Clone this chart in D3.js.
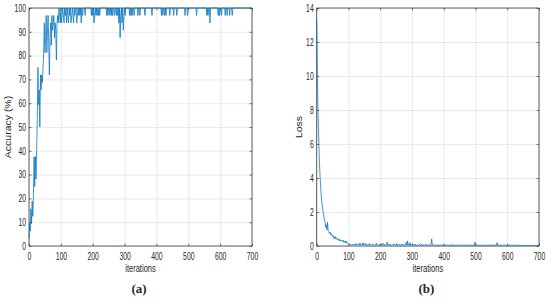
<!DOCTYPE html>
<html>
<head>
<meta charset="utf-8">
<script src="https://cdn.jsdelivr.net/npm/d3@7"></script>
<style>
body { margin: 0; background: #fff; }
svg text { font-family: "Liberation Sans", Arial, sans-serif; fill: #262626; font-size: 10.5px; }
.grid line { stroke: #e4e4e4; stroke-width: 0.8; }
.grid path, .axis path { display: none; }
.axis line { stroke: #3c3c3c; stroke-width: 0.7; }
.tag { font-family: "Liberation Serif", "DejaVu Serif", serif; font-weight: bold; font-size: 13px; }
</style>
</head>
<body>
<div id="chart"></div>
<script>
/* one value every 2 iterations, 0..700 */
var iterStep = 2;
/* accuracy kept as correct samples out of a 32 batch */
var batchSize = 32;
var accCorrect = [
  1,3,2,5,3,6,4,7,12,8,
  12,9,13,17,24,19,21,16,23,21,
  23,22,24,26,30,26,28,31,26,29,
  31,27,23,28,30,27,31,29,30,31,
  28,30,29,25,30,31,30,32,31,30,
  32,30,31,32,31,30,32,31,32,30,
  32,31,30,32,31,32,30,31,32,31,
  30,32,31,32,32,30,31,32,31,32,
  31,32,30,32,31,32,32,32,31,32,
  32,32,32,32,32,32,32,32,31,32,
  31,32,30,31,32,31,32,31,32,31,
  32,31,32,32,32,32,32,32,32,32,
  32,32,31,32,31,32,32,31,32,31,
  32,31,32,32,31,32,32,31,32,31,
  32,30,32,28,31,32,30,32,29,31,
  32,31,32,32,32,32,32,32,31,32,
  31,32,31,32,32,31,32,32,32,32,
  32,31,32,32,31,32,32,32,32,32,
  32,32,31,32,32,32,32,32,32,32,
  32,32,32,31,32,32,32,32,32,32,
  32,32,32,32,32,32,32,32,31,32,
  31,32,32,31,32,31,32,32,32,32,
  32,31,32,32,32,32,32,31,32,32,
  32,32,31,32,32,32,32,32,32,32,
  32,32,32,32,32,31,32,32,32,31,
  32,32,32,32,32,32,32,32,32,32,
  32,32,32,31,32,32,32,32,32,32,
  32,32,32,32,32,32,32,32,32,31,
  32,31,32,32,30,32,32,32,32,32,
  32,32,32,32,32,32,32,31,32,31,
  32,32,31,32,32,32,32,32,31,32,
  32,31,32,32,32,31,32,32,32,31,
  32,32,32,32,32,32,32,32,32,32,
  32,32,32,32,32,32,32,32,32,32,
  32,32,32,32,32,32,32,32,32,32,
  32
];
var lossValues = [
  13.3,10.1,8.0,6.6,5.3,4.3,3.6,3.0,2.6,2.3,
  2.0,1.8,1.55,1.45,1.1,1.25,0.95,1.4,0.9,0.85,
  0.75,0.82,0.65,0.72,0.6,0.55,0.62,0.45,0.52,0.42,
  0.55,0.4,0.44,0.36,0.42,0.32,0.38,0.3,0.36,0.28,
  0.32,0.25,0.33,0.22,0.28,0.2,0.3,0.17,0.22,0.14,
  0.12,0.08,0.1,0.06,0.09,0.05,0.11,0.07,0.12,0.06,
  0.08,0.05,0.15,0.06,0.09,0.04,0.1,0.07,0.18,0.05,
  0.08,0.12,0.06,0.2,0.05,0.09,0.06,0.16,0.05,0.08,
  0.04,0.1,0.06,0.14,0.05,0.07,0.04,0.09,0.12,0.05,
  0.06,0.04,0.08,0.05,0.15,0.04,0.06,0.09,0.05,0.07,
  0.04,0.12,0.05,0.08,0.18,0.05,0.06,0.1,0.04,0.07,
  0.05,0.24,0.06,0.08,0.04,0.12,0.05,0.06,0.04,0.09,
  0.05,0.04,0.11,0.05,0.06,0.04,0.15,0.05,0.04,0.08,
  0.05,0.1,0.04,0.06,0.05,0.12,0.04,0.07,0.05,0.08,
  0.06,0.22,0.05,0.3,0.06,0.12,0.04,0.2,0.05,0.08,
  0.04,0.1,0.05,0.06,0.04,0.12,0.05,0.04,0.07,0.05,
  0.04,0.06,0.09,0.04,0.05,0.12,0.04,0.06,0.05,0.04,
  0.08,0.04,0.05,0.1,0.04,0.06,0.04,0.05,0.07,0.04,
  0.05,0.42,0.06,0.04,0.08,0.04,0.05,0.06,0.04,0.05,
  0.04,0.07,0.04,0.05,0.04,0.06,0.04,0.05,0.08,0.04,
  0.05,0.04,0.06,0.04,0.05,0.04,0.07,0.04,0.05,0.04,
  0.06,0.04,0.05,0.04,0.09,0.04,0.05,0.04,0.06,0.04,
  0.05,0.04,0.07,0.04,0.05,0.04,0.06,0.04,0.05,0.04,
  0.04,0.05,0.04,0.06,0.04,0.05,0.04,0.04,0.05,0.04,
  0.04,0.05,0.04,0.04,0.06,0.04,0.05,0.04,0.04,0.22,
  0.04,0.05,0.04,0.04,0.05,0.04,0.04,0.06,0.04,0.04,
  0.05,0.04,0.04,0.05,0.04,0.07,0.04,0.04,0.05,0.04,
  0.04,0.05,0.04,0.04,0.06,0.04,0.04,0.05,0.04,0.04,
  0.05,0.04,0.06,0.04,0.2,0.04,0.05,0.04,0.04,0.05,
  0.04,0.04,0.05,0.04,0.04,0.08,0.04,0.04,0.05,0.04,
  0.04,0.05,0.04,0.07,0.04,0.04,0.05,0.04,0.04,0.06,
  0.04,0.04,0.05,0.04,0.04,0.06,0.04,0.04,0.05,0.04,
  0.04,0.03,0.04,0.04,0.03,0.04,0.03,0.04,0.03,0.04,
  0.03,0.04,0.03,0.03,0.04,0.03,0.03,0.04,0.03,0.03,
  0.04,0.03,0.03,0.04,0.03,0.03,0.04,0.03,0.03,0.04,
  0.03
];
var xTicks = [0, 100, 200, 300, 400, 500, 600, 700];
var accTicks = [0, 10, 20, 30, 40, 50, 60, 70, 80, 90, 100];
var lossTicks = [0, 2, 4, 6, 8, 10, 12, 14];
var xTitle = "iterations";

var W = 550, H = 303;
var svg = d3.select("#chart").append("svg").attr("width", W).attr("height", H);

var accPoints = accCorrect.map(function(c, i) { return [i * iterStep, c / batchSize * 100]; });
var lossPoints = lossValues.map(function(v, i) { return [i * iterStep, v]; });

drawPanel({ left: 29, right: 252, top: 8, bottom: 246 }, [0, 100], accTicks, accPoints, "Accuracy (%)", 11, "(a)");
drawPanel({ left: 316.7, right: 539, top: 8, bottom: 246 }, [0, 14], lossTicks, lossPoints, "Loss", 302, "(b)");

function drawPanel(box, yDomain, yTicks, points, yTitle, yTitleX, tag) {
  var w = box.right - box.left,
    h = box.bottom - box.top;
  var g = svg.append("g").attr("transform", "translate(" + box.left + "," + box.top + ")");
  var x = d3.scaleLinear().domain([0, 700]).range([0, w]);
  var y = d3.scaleLinear().domain(yDomain).range([h, 0]);

  /* grid under everything */
  g.append("g").attr("class", "grid")
    .attr("transform", "translate(0," + h + ")")
    .call(d3.axisBottom(x).tickValues(xTicks).tickSize(-h).tickFormat(""));
  g.append("g").attr("class", "grid")
    .call(d3.axisLeft(y).tickValues(yTicks).tickSize(-w).tickFormat(""));

  /* matlab style box with inward ticks on all four sides */
  var bottomAx = g.append("g").attr("class", "axis")
    .attr("transform", "translate(0," + h + ")")
    .call(d3.axisBottom(x).tickValues(xTicks).tickSizeInner(-2.5).tickSizeOuter(0));
  bottomAx.selectAll(".tick text")
    .attr("y", 0).attr("dy", null)
    .attr("transform", "translate(0,13.5) scale(0.65,1)");
  var leftAx = g.append("g").attr("class", "axis")
    .call(d3.axisLeft(y).tickValues(yTicks).tickSizeInner(-2.5).tickSizeOuter(0));
  leftAx.selectAll(".tick text")
    .attr("x", 0)
    .attr("transform", "translate(-3,0) scale(0.65,1)");
  g.append("g").attr("class", "axis")
    .call(d3.axisTop(x).tickValues(xTicks).tickSizeInner(-2.5).tickSizeOuter(0).tickFormat(""));
  g.append("g").attr("class", "axis")
    .attr("transform", "translate(" + w + ",0)")
    .call(d3.axisRight(y).tickValues(yTicks).tickSizeInner(-2.5).tickSizeOuter(0).tickFormat(""));

  g.append("rect")
    .attr("width", w).attr("height", h)
    .attr("fill", "none")
    .attr("stroke", "#3c3c3c")
    .attr("stroke-width", 0.8);

  // data goes over the box, like matlab does
  g.append("path")
    .datum(points)
    .attr("fill", "none")
    .attr("stroke", "#0072BD")
    .attr("stroke-width", 0.75)
    .attr("d", d3.line().x(function(d) { return x(d[0]); }).y(function(d) { return y(d[1]); }));

  /* titles */
  svg.append("text")
    .attr("text-anchor", "middle")
    .attr("transform", "translate(" + (box.left + w / 2) + ",271.7) scale(0.72,1)")
    .text(xTitle);
  svg.append("text")
    .attr("text-anchor", "middle")
    .attr("font-size", "10px")
    .attr("transform", "translate(" + yTitleX + "," + (box.top + h / 2) + ") scale(0.8,1) rotate(-90)")
    .text(yTitle);
  svg.append("text")
    .attr("class", "tag")
    .attr("text-anchor", "middle")
    .attr("x", box.left + w / 2 - 1.5)
    .attr("y", 292.5)
    .text(tag);
}
</script>
</body>
</html>
